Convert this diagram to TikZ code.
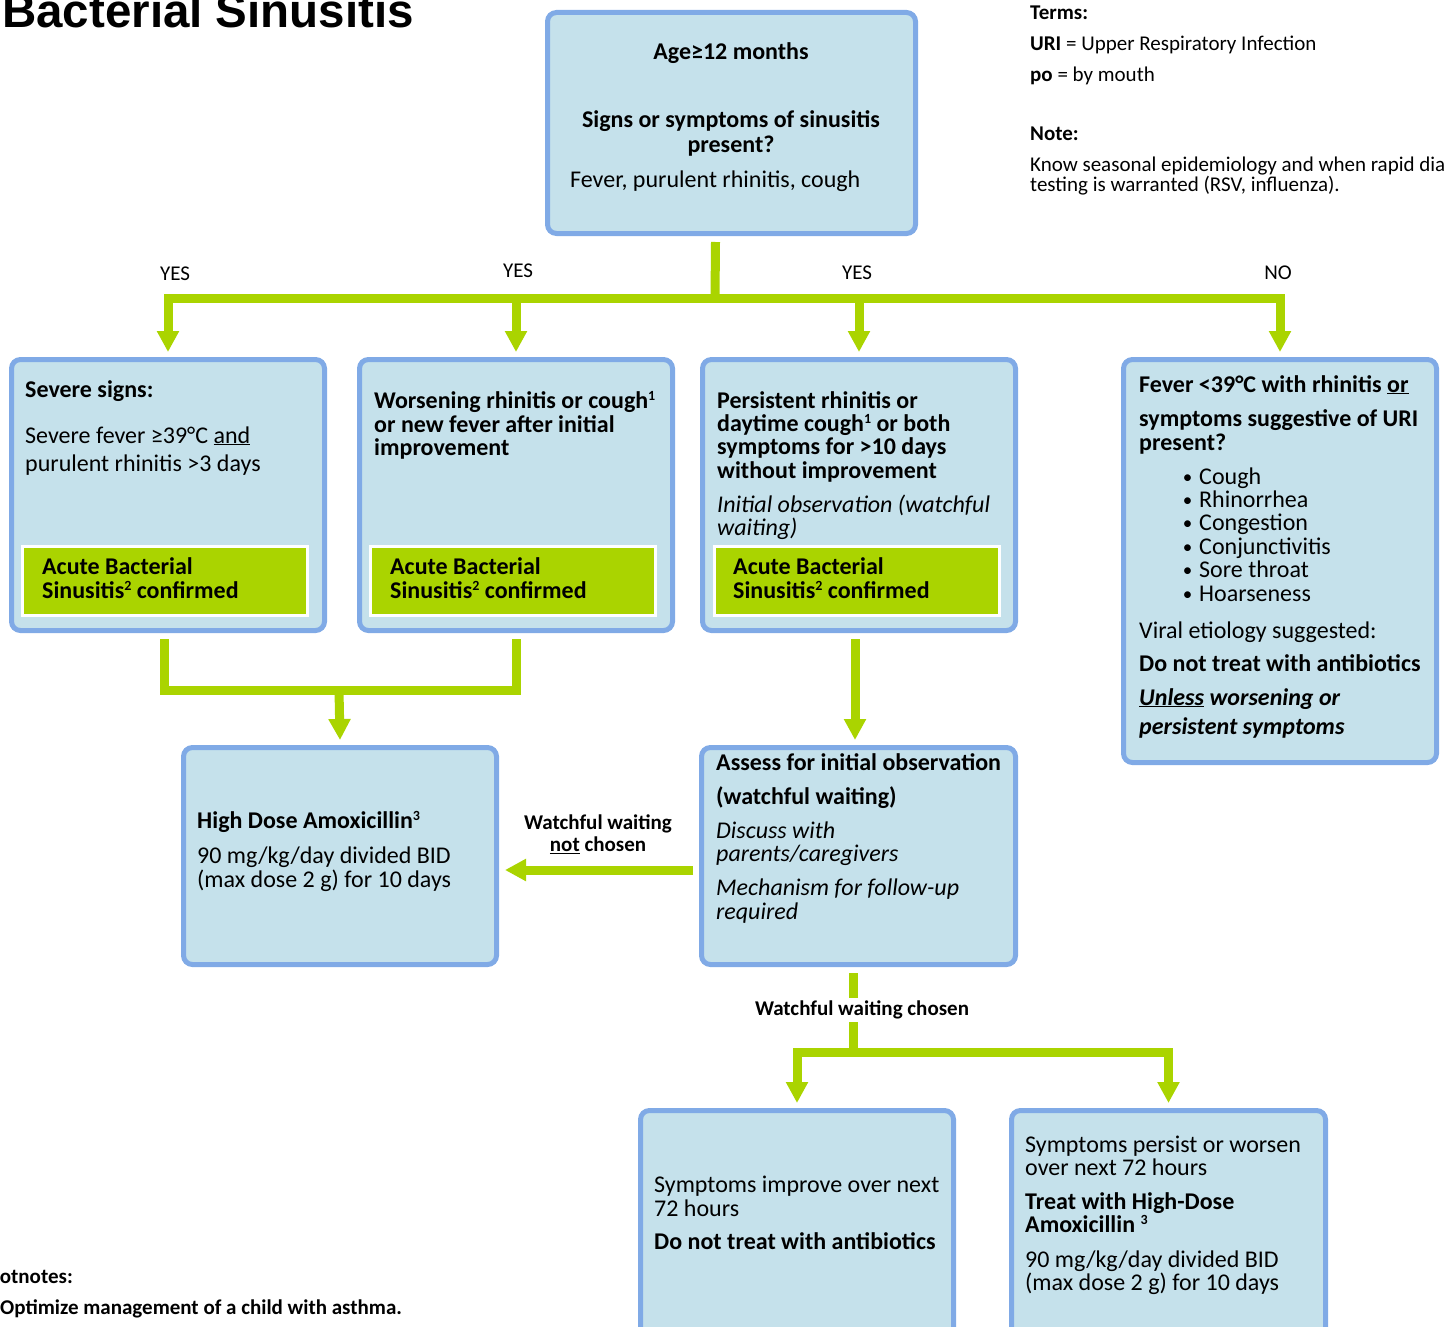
\documentclass[tikz,border=0pt]{standalone}
\usepackage{fontspec}
\setmainfont{Carlito}
\newfontfamily\titlefont{Liberation Sans}
\usetikzlibrary{arrows.meta,positioning,calc}
\definecolor{PanelBlue}{RGB}{197,225,235}
\definecolor{EdgeBlue}{RGB}{128,170,230}
\definecolor{FlowGreen}{RGB}{170,212,0}
\newcommand{\bodysize}{\fontsize{24}{24}\selectfont}
\newcommand{\labelsize}{\fontsize{21}{22}\selectfont}
\newcommand{\fnote}[1]{\raisebox{0.3em}{\fontsize{14}{14}\selectfont #1}}
\tikzset{
  panel/.style={draw=EdgeBlue, line width=5pt, fill=PanelBlue, rounded corners=9pt, inner sep=0pt},
  verdict/.style={draw=white, line width=3pt, fill=FlowGreen, inner sep=0pt,
    minimum width=285pt, minimum height=69pt},
  txt/.style={anchor=base west, inner sep=0pt, font=\bodysize},
  txtb/.style={txt, font=\bodysize\bfseries},
  txti/.style={txt, font=\bodysize\itshape},
  lbl/.style={anchor=base west, inner sep=0pt, font=\labelsize},
  lblb/.style={lbl, font=\labelsize\bfseries},
  flowline/.style={draw=FlowGreen, line width=9pt},
  bar/.style={flowline, line cap=rect},
  flow/.style={flowline, -{Triangle[width=21pt,length=21pt]}},
}

\begin{document}
\begin{tikzpicture}[x=1pt, y=-1pt]
  \useasboundingbox (0,0) rectangle (1445,1327);

  % title, terms, footnotes
  \node[anchor=base west, inner sep=0pt, font=\titlefont\bfseries\fontsize{47.5}{50}\selectfont]
    (title) at (2,28) {Bacterial Sinusitis};
  \node[lblb] (terms) at (1030,20) {Terms:};
  \node[lbl] (uri) at (1030,51) {\textbf{URI} = Upper Respiratory Infection};
  \node[lbl] (po) at (1030,82) {\textbf{po} = by mouth};
  \node[lblb] (note) at (1030,140) {Note:};
  \node[lbl] (note1) at (1030,171) {Know seasonal epidemiology and when rapid diagnostic};
  \node[lbl] (note2) at (1030,191) {testing is warranted (RSV, influenza).};
  \node[lblb] (fnhead) at (-21,1283) {Footnotes:};
  \node[lblb] (fn1) at (0,1314) {Optimize management of a child with asthma.};

  % panels
  \node[panel, minimum width=368pt, minimum height=221pt] (top) at (731.5,123) {};
  \node[panel, minimum width=313pt, minimum height=271pt] (severe) at (168,495) {};
  \node[panel, minimum width=313pt, minimum height=271pt] (worse) at (516,495) {};
  \node[panel, minimum width=313pt, minimum height=271pt] (persist) at (859,495) {};
  \node[panel, minimum width=313pt, minimum height=403pt] (viral) at (1280,561) {};
  \node[panel, minimum width=313pt, minimum height=217pt] (amox) at (340,856) {};
  \node[panel, minimum width=314pt, minimum height=217pt] (assess) at (858.5,856) {};
  \node[panel, minimum width=313pt, minimum height=235pt] (improve) at (797,1228) {};
  \node[panel, minimum width=314pt, minimum height=235pt] (worsen) at (1168.5,1228) {};
  \node[verdict] (abs1) at (165,581) {};
  \node[verdict] (abs2) at (513,581) {};
  \node[verdict] (abs3) at (856.5,581) {};

  % top panel
  \node[txtb, anchor=base] (age) at (731,60) {Age≥12 months};
  \node[txtb, anchor=base] (ask1) at (731,128) {Signs or symptoms of sinusitis};
  \node[txtb, anchor=base] (ask2) at (731,153) {present?};
  \node[txt] (signs) at (570,187) {Fever, purulent rhinitis, cough};

  % first row
  \node[txtb] (sv1) at (25,397) {Severe signs:};
  \node[txt] (sv2) at (25,443) {Severe fever ≥39°C \underline{and}};
  \node[txt] (sv3) at (25,471) {purulent rhinitis >3 days};
  \node[txtb] (wr1) at (374,408) {Worsening rhinitis or cough\fnote{1}};
  \node[txtb] (wr2) at (374,432) {or new fever after initial};
  \node[txtb] (wr3) at (374,455) {improvement};
  \node[txtb] (ps1) at (717,408) {Persistent rhinitis or};
  \node[txtb] (ps2) at (717,431) {daytime cough\fnote{1} or both};
  \node[txtb] (ps3) at (717,454) {symptoms for >10 days};
  \node[txtb] (ps4) at (717,478) {without improvement};
  \node[txti] (ps5) at (717,512) {Initial observation (watchful};
  \node[txti] (ps6) at (717,535) {waiting)};
  \foreach \x/\n in {42/1,390/2,733/3}{
    \node[txtb] (abs\n a) at (\x,574) {Acute Bacterial};
    \node[txtb] (abs\n b) at (\x,598) {Sinusitis\fnote{2} confirmed};
  }
  \node[txtb] (vr1) at (1139,392) {Fever <39°C with rhinitis \underline{or}};
  \node[txtb] (vr2) at (1139,426) {symptoms suggestive of URI};
  \node[txtb] (vr3) at (1139,450) {present?};
  \foreach \s [count=\i] in {Cough,Rhinorrhea,Congestion,Conjunctivitis,Sore throat,Hoarseness}
    \node[txt] (sym\i) at (1199,{484+23.4*(\i-1)})
      {\llap{\raisebox{1pt}{\fontsize{19}{19}\selectfont\textbullet}\hspace{7pt}}\s};
  \node[txt] (vr4) at (1139,638) {Viral etiology suggested:};
  \node[txtb] (vr5) at (1139,671) {Do not treat with antibiotics};
  \node[txtb, font=\bodysize\bfseries\itshape] (vr6) at (1139,705) {\underline{Unless} worsening or};
  \node[txtb, font=\bodysize\bfseries\itshape] (vr7) at (1139,734) {persistent symptoms};

  % second row
  \node[txtb] (am1) at (197,828) {High Dose Amoxicillin\fnote{3}};
  \node[txt] (am2) at (197,863) {90 mg/kg/day divided BID};
  \node[txt] (am3) at (197,887) {(max dose 2 g) for 10 days};
  \node[txtb] (as1) at (716,770) {Assess for initial observation};
  \node[txtb] (as2) at (716,804) {(watchful waiting)};
  \node[txti] (as3) at (716,838) {Discuss with};
  \node[txti] (as4) at (716,861) {parents/caregivers};
  \node[txti] (as5) at (716,895) {Mechanism for follow-up};
  \node[txti] (as6) at (716,919) {required};

  % third row
  \node[txt] (im1) at (654,1192) {Symptoms improve over next};
  \node[txt] (im2) at (654,1216) {72 hours};
  \node[txtb] (im3) at (654,1249) {Do not treat with antibiotics};
  \node[txt] (ws1) at (1025,1152) {Symptoms persist or worsen};
  \node[txt] (ws2) at (1025,1175) {over next 72 hours};
  \node[txtb] (ws3) at (1025,1209) {Treat with High-Dose};
  \node[txtb] (ws4) at (1025,1232) {Amoxicillin \fnote{3}};
  \node[txt] (ws5) at (1025,1267) {90 mg/kg/day divided BID};
  \node[txt] (ws6) at (1025,1290) {(max dose 2 g) for 10 days};

  % connectors
  \coordinate (fork) at (715,298);
  \draw[flowline] ([xshift=-16pt,yshift=-6pt]top.south) -- (fork);
  \draw[bar] (severe.north |- fork) -- (viral.north |- fork);
  \foreach \b in {severe,worse,persist,viral}
    \draw[flow] (\b.north |- fork) -- ([yshift=5pt]\b.north);
  \node[lbl, anchor=center] (yes1) at (175,274) {YES};
  \node[lbl, anchor=center] (yes2) at (518,271) {YES};
  \node[lbl, anchor=center] (yes3) at (857,273) {YES};
  \node[lbl, anchor=center] (no) at (1278,273) {NO};

  \coordinate (merge) at (339,690);
  \draw[flowline] ([xshift=-4pt,yshift=-6pt]severe.south) |- (merge)
    -| ([yshift=-6pt]worse.south);
  \draw[flow] (merge) -- ([yshift=5pt]amox.north);
  \draw[flow] ([xshift=-4pt,yshift=-6pt]persist.south)
    -- ([xshift=-4pt,yshift=5pt]persist.south |- assess.north);

  \draw[flow] ([xshift=-6pt,yshift=-14pt]assess.west) -- ([xshift=6pt,yshift=-14pt]amox.east);
  \node[lblb, anchor=center, align=center] (notchosen) at (598,834)
    {Watchful waiting\\\underline{not} chosen};

  \coordinate (fork2) at (853,1052);
  \draw[flowline] ([xshift=-5.5pt,yshift=-6pt]assess.south) -- (fork2);
  \node[lblb, anchor=center, fill=white, inner sep=3pt] (chosen) at (862,1010)
    {Watchful waiting chosen};
  \draw[bar] (improve.north |- fork2) -- (worsen.north |- fork2);
  \foreach \b in {improve,worsen}
    \draw[flow] (\b.north |- fork2) -- ([yshift=5pt]\b.north);
\end{tikzpicture}
\end{document}
